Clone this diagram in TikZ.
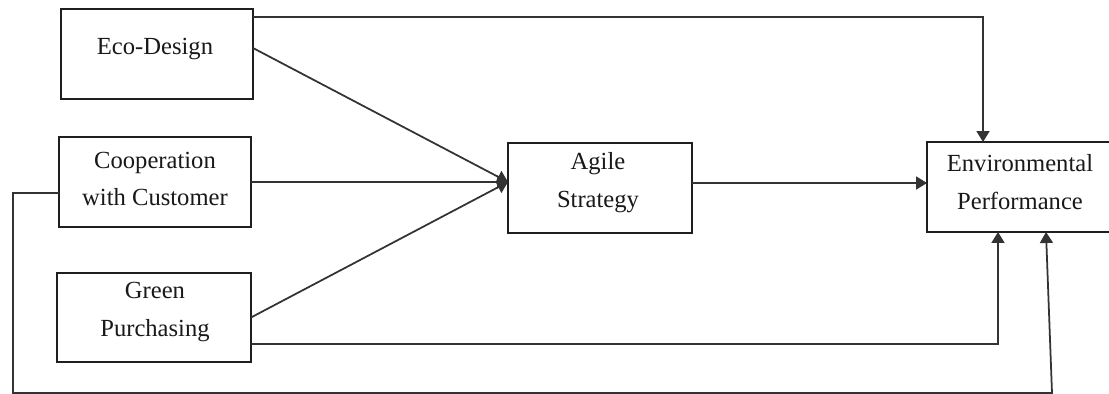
\documentclass[tikz,border=0pt]{standalone}
\usepackage{fontspec}
\setmainfont{Liberation Serif}
\usetikzlibrary{arrows.meta}
\begin{document}
\begin{tikzpicture}[x=0.02cm,y=-0.02cm,
  box/.style={draw=black!88, line width=1pt, inner sep=0pt, outer sep=0pt},
  lbl/.style={align=center, font=\fontsize{14pt}{21.5pt}\selectfont, text=black!90, inner sep=0pt},
  conn/.style={draw=black!80, line width=1pt},
  arr/.style={conn, -{Triangle[length=0.22cm,width=0.26cm]}}]
\useasboundingbox (0,0) rectangle (1109,394);
\fill[white] (0,0) rectangle (1109,394);
\clip (0,0) rectangle (1109,394);
% boxes
\node[box, minimum width=3.84cm, minimum height=1.8cm] (eco) at (157,54) {};
\node[box, minimum width=3.84cm, minimum height=1.8cm] (coop) at (155,182) {};
\node[box, minimum width=3.88cm, minimum height=1.78cm] (green) at (154,317.5) {};
\node[box, minimum width=3.68cm, minimum height=1.8cm] (agile) at (600,188) {};
\node[box, minimum width=3.7cm, minimum height=1.8cm] (env) at (1019.5,187) {};
% labels
\node[lbl] (ecot) at (155,49) {Eco-Design};
\node[lbl] (coopt) at (155,179) {Cooperation\\with Customer};
\node[lbl] (greent) at (155,312) {Green\\Purchasing};
\node[lbl] (agilet) at (598,183) {Agile\\Strategy};
\node[lbl] (envt) at (1020,182) {Environmental\\Performance};
% helper coordinates
\coordinate (tip) at ([yshift=0.12cm]agile.west);
\coordinate (lc) at (13,393);
\coordinate (rc) at (1052,393);
% connectors
\draw[arr] ([yshift=0.74cm]eco.east) -| ([xshift=-0.73cm]env.north);
\draw[arr] ([yshift=0.12cm]eco.east) -- (tip);
\draw[arr] (coop.east) -- (tip);
\draw[arr] (green.east) -- (tip);
\draw[arr] ([yshift=0.1cm]agile.east) -- ([yshift=0.1cm]agile.east -| env.west);
\draw[arr] ([yshift=-0.53cm]green.east) -| ([xshift=-0.43cm]env.south);
\draw[arr] ([yshift=-0.22cm]coop.west) -| (lc) -- (rc) -- ([xshift=0.53cm]env.south);
\end{tikzpicture}
\end{document}
